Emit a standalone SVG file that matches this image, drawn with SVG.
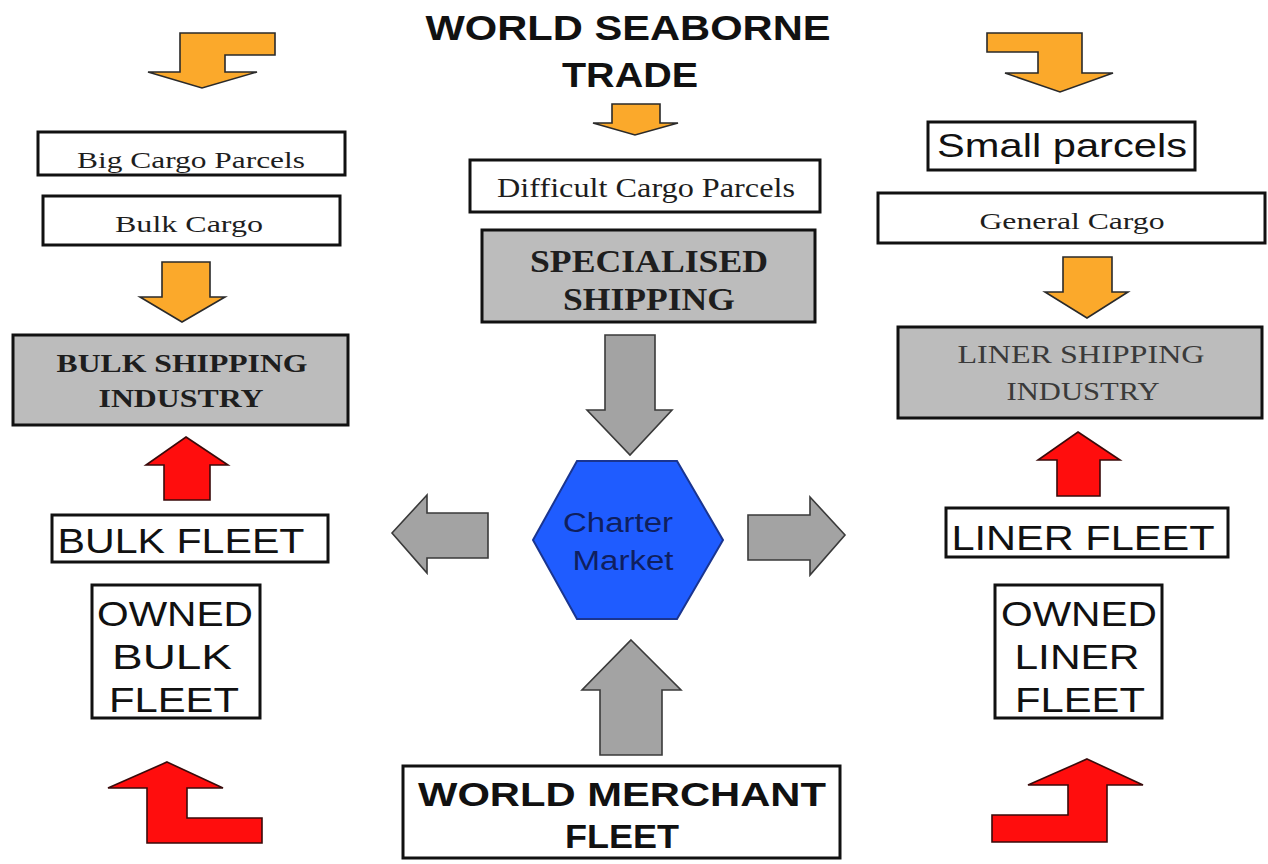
<svg xmlns="http://www.w3.org/2000/svg" width="1268" height="864" viewBox="0 0 1268 864">
<style>
.box{fill:#fff;stroke:#111;stroke-width:3}
.gbox{fill:#bcbcbc;stroke:#111;stroke-width:3}
.orange{fill:#fba92b;stroke:#2a2a2a;stroke-width:1.6;stroke-linejoin:miter}
.red{fill:#ff0d0d;stroke:#3a0a0a;stroke-width:1.6}
.gray{fill:#a3a3a3;stroke:#3a3a3a;stroke-width:1.6}
.serif{font-family:"Liberation Serif","Times New Roman",serif;fill:#1e1e1e}
.sans{font-family:"Liberation Sans",Arial,sans-serif;fill:#111}
</style>
<rect width="1268" height="864" fill="#fff"/>

<g id="connectors">
<polygon class="orange" points="180,33 275,33 275,55 225,55 225,72 257,72 202,88 148,72 180,72"/>
<polygon class="orange" points="987,33 1082,33 1082,73 1113,73 1060,92 1005,73 1038,73 1038,52 987,52"/>
<polygon class="orange" points="612,104 660,104 660,123 678,123 635,135 593,123 612,123"/>
<polygon class="orange" points="162,262 210,262 210,297 225,297 182,322 140,297 162,297"/>
<polygon class="orange" points="1063,257 1112,257 1112,292 1128,292 1087,318 1045,292 1063,292"/>
<polygon class="gray" points="605,335 655,335 655,410 672,410 630,455 587,410 605,410"/>
<polygon class="gray" points="488,513 488,558 427,558 427,573 392,533 427,495 427,513"/>
<polygon class="gray" points="748,515 810,515 810,497 845,535 810,575 810,560 748,560"/>
<polygon class="gray" points="631,640 681,690 662,690 662,755 600,755 600,690 582,690"/>
<polygon class="red" points="186,437 228,465 210,465 210,500 164,500 164,465 146,465"/>
<polygon class="red" points="1078,432 1120,460 1100,460 1100,496 1057,496 1057,460 1038,460"/>
<polygon class="red" points="167,762 223,788 187,788 187,818 262,818 262,843 147,843 147,788 108,788"/>
<polygon class="red" points="1087,759 1143,785 1107,785 1107,842 992,842 992,815 1068,815 1068,785 1028,785"/>
</g>

<g id="title">
<text class="sans" x="628" y="40" font-size="35" font-weight="bold" text-anchor="middle" textLength="405" lengthAdjust="spacingAndGlyphs">WORLD SEABORNE</text>
<text class="sans" x="630" y="87" font-size="35" font-weight="bold" text-anchor="middle" textLength="136" lengthAdjust="spacingAndGlyphs">TRADE</text>
</g>

<g id="big-cargo">
<rect class="box" x="38" y="132" width="307" height="43"/>
<text class="serif" x="191" y="168" font-size="24" text-anchor="middle" textLength="228" lengthAdjust="spacingAndGlyphs">Big Cargo Parcels</text>
</g>
<g id="bulk-cargo">
<rect class="box" x="43" y="196" width="297" height="49"/>
<text class="serif" x="189" y="232" font-size="24" text-anchor="middle" textLength="148" lengthAdjust="spacingAndGlyphs">Bulk Cargo</text>
</g>
<g id="bulk-shipping">
<rect class="gbox" x="13" y="335" width="335" height="90"/>
<text class="serif" x="182" y="372" font-size="25" font-weight="bold" text-anchor="middle" textLength="251" lengthAdjust="spacingAndGlyphs">BULK SHIPPING</text>
<text class="serif" x="181" y="407" font-size="25" font-weight="bold" text-anchor="middle" textLength="165" lengthAdjust="spacingAndGlyphs">INDUSTRY</text>
</g>
<g id="bulk-fleet">
<rect class="box" x="52" y="515" width="276" height="47"/>
<text class="sans" x="181" y="553" font-size="35" text-anchor="middle" textLength="247" lengthAdjust="spacingAndGlyphs">BULK FLEET</text>
</g>
<g id="owned-bulk">
<rect class="box" x="92" y="585" width="168" height="133"/>
<text class="sans" x="175" y="626" font-size="35" text-anchor="middle" textLength="156" lengthAdjust="spacingAndGlyphs">OWNED</text>
<text class="sans" x="172" y="669" font-size="35" text-anchor="middle" textLength="120" lengthAdjust="spacingAndGlyphs">BULK</text>
<text class="sans" x="174" y="712" font-size="35" text-anchor="middle" textLength="130" lengthAdjust="spacingAndGlyphs">FLEET</text>
</g>

<g id="difficult-cargo">
<rect class="box" x="470" y="160" width="350" height="52"/>
<text class="serif" x="646" y="197" font-size="28" text-anchor="middle" textLength="298" lengthAdjust="spacingAndGlyphs">Difficult Cargo Parcels</text>
</g>
<g id="specialised">
<rect class="gbox" x="482" y="230" width="333" height="92"/>
<text class="serif" x="649" y="272" font-size="31" font-weight="bold" text-anchor="middle" textLength="238" lengthAdjust="spacingAndGlyphs">SPECIALISED</text>
<text class="serif" x="649" y="310" font-size="31" font-weight="bold" text-anchor="middle" textLength="172" lengthAdjust="spacingAndGlyphs">SHIPPING</text>
</g>
<g id="charter-market">
<polygon points="577,461 677,461 723,540 677,619 577,619 533,540" fill="#1f5cff" stroke="#1a3590" stroke-width="2"/>
<text class="sans" x="618" y="532" font-size="27" text-anchor="middle" style="fill:#0f1f5e" textLength="110" lengthAdjust="spacingAndGlyphs">Charter</text>
<text class="sans" x="623" y="570" font-size="27" text-anchor="middle" style="fill:#0f1f5e" textLength="101" lengthAdjust="spacingAndGlyphs">Market</text>
</g>
<g id="world-merchant-fleet">
<rect class="box" x="403" y="766" width="437" height="92"/>
<text class="sans" x="622" y="806" font-size="34" font-weight="bold" text-anchor="middle" textLength="408" lengthAdjust="spacingAndGlyphs">WORLD MERCHANT</text>
<text class="sans" x="622" y="848" font-size="34" font-weight="bold" text-anchor="middle" textLength="114" lengthAdjust="spacingAndGlyphs">FLEET</text>
</g>

<g id="small-parcels">
<rect class="box" x="928" y="122" width="267" height="48"/>
<text class="sans" x="1062" y="157" font-size="34" text-anchor="middle" textLength="250" lengthAdjust="spacingAndGlyphs">Small parcels</text>
</g>
<g id="general-cargo">
<rect class="box" x="878" y="193" width="387" height="50"/>
<text class="serif" x="1072" y="229" font-size="24" text-anchor="middle" textLength="185" lengthAdjust="spacingAndGlyphs">General Cargo</text>
</g>
<g id="liner-shipping">
<rect class="gbox" x="898" y="327" width="364" height="91"/>
<text class="serif" x="1081" y="363" font-size="25" text-anchor="middle" style="fill:#3a3a3a" textLength="247" lengthAdjust="spacingAndGlyphs">LINER SHIPPING</text>
<text class="serif" x="1083" y="400" font-size="25" text-anchor="middle" style="fill:#3a3a3a" textLength="153" lengthAdjust="spacingAndGlyphs">INDUSTRY</text>
</g>
<g id="liner-fleet">
<rect class="box" x="946" y="508" width="282" height="49"/>
<text class="sans" x="1083" y="550" font-size="35" text-anchor="middle" textLength="263" lengthAdjust="spacingAndGlyphs">LINER FLEET</text>
</g>
<g id="owned-liner">
<rect class="box" x="995" y="585" width="167" height="133"/>
<text class="sans" x="1079" y="626" font-size="35" text-anchor="middle" textLength="156" lengthAdjust="spacingAndGlyphs">OWNED</text>
<text class="sans" x="1077" y="669" font-size="35" text-anchor="middle" textLength="125" lengthAdjust="spacingAndGlyphs">LINER</text>
<text class="sans" x="1080" y="712" font-size="35" text-anchor="middle" textLength="130" lengthAdjust="spacingAndGlyphs">FLEET</text>
</g>
</svg>
